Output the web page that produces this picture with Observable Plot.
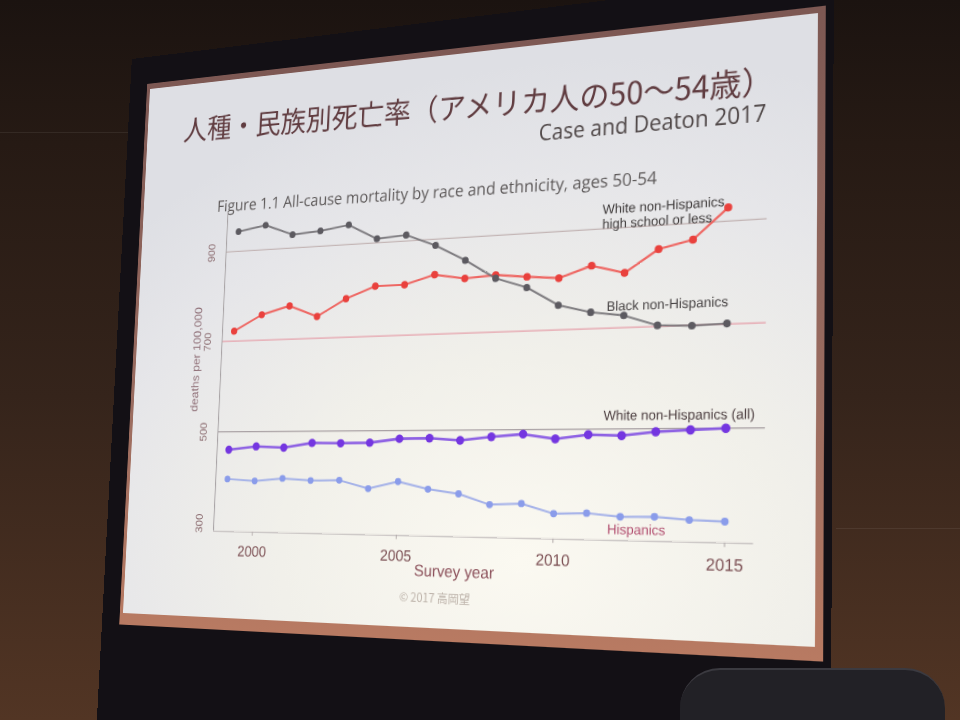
<!DOCTYPE html>
<html>
<head>
<meta charset="utf-8">
<script src="https://cdn.jsdelivr.net/npm/d3@7"></script>
<script src="https://cdn.jsdelivr.net/npm/@observablehq/plot@0.6"></script>
<style>
  html, body { margin: 0; padding: 0; }
  body {
    width: 960px; height: 720px; overflow: hidden; position: relative;
    background: linear-gradient(180deg, #1b1310 0%, #261a14 20%, #35241b 55%, #523524 100%);
    font-family: "Liberation Sans", Arial, sans-serif;
  }
  #stage { position: absolute; left: 0; top: 0; width: 720px; height: 560px; transform-origin: 0 0; }
  .casing { position: absolute; left: -26px; top: -36px; width: 760px; height: 1000px; background: #131015; }
  .frame { position: absolute; left: -4px; top: -6px; width: 731px; height: 578px;
           background: linear-gradient(180deg, #7d5853 0%, #9a6c60 60%, #b87a62 100%); }
  .slide { position: absolute; left: 0; top: 0; width: 720px; height: 560px; overflow: hidden;
           background: radial-gradient(ellipse 90% 85% at 62% 88%, #fbf9f1 0%, #f1f0ea 40%, #e6e6e9 75%, #dedfe4 100%); }
  .title { position: absolute; left: 46px; top: 33px; font-family: "Noto Sans CJK JP", sans-serif;
           font-size: 30px; line-height: 1; color: #603c40; white-space: nowrap;
           transform: rotate(0.75deg); transform-origin: left center; }
  .cite { position: absolute; right: 46px; top: 77px; font-family: "Open Sans", sans-serif;
          font-size: 21px; line-height: 1; color: #4e4646; white-space: nowrap; }
  .figcap { position: absolute; left: 93px; top: 127px; font-family: "Open Sans", sans-serif;
            font-size: 16.6px; line-height: 1; color: #5c5858; white-space: nowrap;
            transform: rotate(0.5deg); transform-origin: left center; }
  .footer { position: absolute; left: 303px; width: 110px; text-align: center; top: 526px;
            font-family: "Noto Sans CJK JP", sans-serif; font-size: 11.5px; line-height: 1; color: #bdb3aa; }
  #chart { position: absolute; left: 15px; top: 113px; }
  .chair { position: absolute; left: 680px; top: 668px; width: 265px; height: 80px;
           border-radius: 40px 40px 0 0; background: #222126; border-top: 2px solid #3b3a40; }
  .seam { position: absolute; height: 1px; background: rgba(255,255,255,0.07); }
</style>
</head>
<body>
<div class="seam" style="left:0;top:132px;width:135px"></div>
<div class="seam" style="left:836px;top:528px;width:124px"></div>
<div id="stage">
  <div class="casing"></div>
  <div class="frame"></div>
  <div class="slide">
    <div class="title">人種・民族別死亡率（アメリカ人の50～54歳）</div>
    <div class="cite">Case and Deaton 2017</div>
    <div class="figcap">Figure 1.1 All-cause mortality by race and ethnicity, ages 50-54</div>
    <div id="chart"></div>
    <div class="footer">© 2017 高岡望</div>
  </div>
</div>
<div class="chair"></div>
<script>
// ---- data ----
const years = [1999, 2000, 2001, 2002, 2003, 2004, 2005, 2006, 2007, 2008, 2009, 2010, 2011, 2012, 2013, 2014, 2015];
const whiteHSorLess = [722, 756, 773, 747, 783, 807, 807, 825, 814, 818, 811, 805, 827, 809, 853, 868, 927];
const blackNonHisp = [945, 955, 930, 934, 943, 909, 913, 887, 852, 811, 789, 750, 733, 724, 702, 699, 701];
const whiteAll = [461, 468, 465, 475, 474, 475, 483, 484, 479, 486, 491, 481, 489, 487, 494, 497, 500];
const hispanics = [397, 393, 399, 395, 396, 379, 394, 379, 370, 349, 352, 333, 335, 329, 330, 325, 323];
const seriesNames = ["White non-Hispanics high school or less", "Black non-Hispanics", "White non-Hispanics (all)", "Hispanics"];
const xTicks = [2000, 2005, 2010, 2015];
const yTicks = [300, 500, 700, 900];
const seriesLabels = [
  {text: "White non-Hispanics", year: 2011.3, value: 939, series: 0},
  {text: "high school or less", year: 2011.3, value: 909, series: 0},
  {text: "Black non-Hispanics", year: 2011.48, value: 743, series: 1},
  {text: "White non-Hispanics (all)", year: 2011.45, value: 526, series: 2},
  {text: "Hispanics", year: 2011.62, value: 304, series: 3}
];

// ---- styles ----
const lineColors = ["#ee5a55", "#727074", "#8250e2", "#9cabe8"];
const dotColors = ["#e9413d", "#5c5a60", "#7436e0", "#8a9cea"];
const lineWidths = [2.2, 2.0, 2.6, 2.0];
const dotR = [3.8, 3.6, 4.3, 3.5];
const labelColors = ["#3e3a3a", "#454142", "#4a3c3e", "#b04a6c"];
const gridColors = {900: "#c4b6b6", 700: "#e6a2ab", 500: "#aaa2a5"};

const valuesBySeries = [whiteHSorLess, blackNonHisp, whiteAll, hispanics];
const rows = valuesBySeries.flatMap((vals, s) => vals.map((v, i) => ({series: s, name: seriesNames[s], year: years[i], value: v})));

const xDomain = [1998.565, 2015.8];
const yDomain = [283, 991];
const gridEnd = 2016.1;

const marks = [
  Plot.ruleY(yTicks.filter(t => t > yDomain[0]), {y: d => d, x1: xDomain[0], x2: gridEnd, stroke: d => gridColors[d], strokeWidth: 1.3}),
  Plot.ruleX([xDomain[0]], {stroke: "#a9a4a6", strokeWidth: 1.2}),
  Plot.ruleY([yDomain[0]], {stroke: "#c2bcbc", strokeWidth: 1.2}),
  Plot.axisX({ticks: xTicks, tickFormat: d => String(d), tickSize: 4, tickPadding: 10, fontSize: 15.5,
              fill: "#7c5054", stroke: "#b0a8a8", label: null}),
  Plot.axisY({ticks: yTicks, tickSize: 0, tickPadding: 14, tickRotate: -90, fontSize: 12,
              fill: "#8a6a6e", label: null}),
  Plot.text(["deaths per 100,000"], {text: d => d, frameAnchor: "left", rotate: -90, dx: -31, dy: 44,
              fontSize: 13, fill: "#8e6e76"}),
  Plot.text(["Survey year"], {text: d => d, frameAnchor: "bottom", dx: -9, dy: 39, fontSize: 16, fill: "#8a4e58"})
];
valuesBySeries.forEach((_, s) => {
  const d = rows.filter(r => r.series === s);
  marks.push(Plot.line(d, {x: "year", y: "value", stroke: lineColors[s], strokeWidth: lineWidths[s], strokeOpacity: 0.9}));
  marks.push(Plot.dot(d, {x: "year", y: "value", fill: dotColors[s], r: dotR[s]}));
});
marks.push(Plot.text(seriesLabels, {x: "year", y: "value", text: "text", textAnchor: "start", fontSize: 13,
                                    fill: d => labelColors[d.series]}));

const chart = Plot.plot({
  width: 720, height: 420,
  marginLeft: 93, marginRight: 55.8, marginTop: 29, marginBottom: 52.6,
  x: {domain: xDomain},
  y: {domain: yDomain},
  style: {background: "transparent", fontFamily: "'Liberation Sans', Arial, sans-serif", overflow: "visible"},
  marks
});
document.getElementById("chart").appendChild(chart);

// ---- perspective of the photographed projector screen ----
function homography(src, dst) {
  const A = [], b = [];
  for (let i = 0; i < 4; i++) {
    const [x, y] = src[i], [X, Y] = dst[i];
    A.push([x, y, 1, 0, 0, 0, -X * x, -X * y]); b.push(X);
    A.push([0, 0, 0, x, y, 1, -Y * x, -Y * y]); b.push(Y);
  }
  const n = 8;
  for (let c = 0; c < n; c++) {
    let p = c;
    for (let r = c + 1; r < n; r++) if (Math.abs(A[r][c]) > Math.abs(A[p][c])) p = r;
    [A[c], A[p]] = [A[p], A[c]]; [b[c], b[p]] = [b[p], b[c]];
    for (let r = 0; r < n; r++) {
      if (r === c) continue;
      const f = A[r][c] / A[c][c];
      for (let k = c; k < n; k++) A[r][k] -= f * A[c][k];
      b[r] -= f * b[c];
    }
  }
  return b.map((v, i) => v / A[i][i]);
}
const W = 720, H = 560;
const h = homography([[0, 0], [W, 0], [W, H], [0, H]], [[150, 89], [818, 13], [815, 647], [123, 613]]);
document.getElementById("stage").style.transform =
  `matrix3d(${h[0]},${h[3]},0,${h[6]},${h[1]},${h[4]},0,${h[7]},0,0,1,0,${h[2]},${h[5]},0,1)`;
</script>
</body>
</html>
